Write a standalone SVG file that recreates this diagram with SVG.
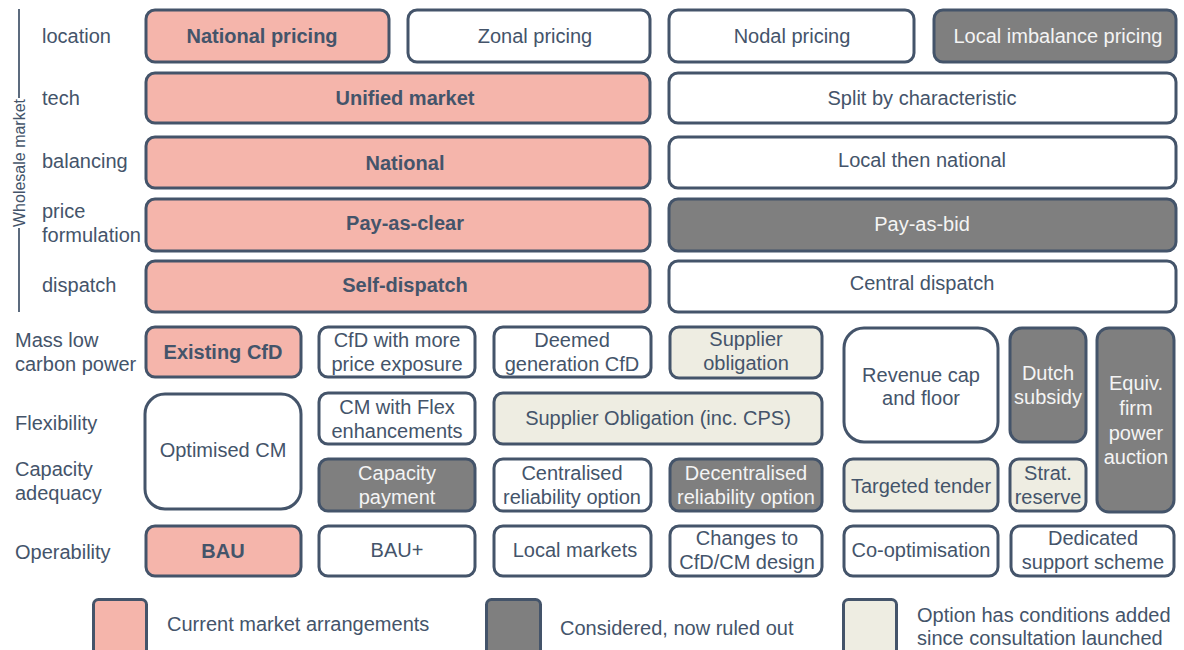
<svg xmlns="http://www.w3.org/2000/svg" width="1184" height="650" viewBox="0 0 1184 650">
  <style>
    text { font-family: "Liberation Sans", Arial, Helvetica, sans-serif; font-size: 20px; fill: #44546a; }
    .c { text-anchor: middle; }
    .b { font-weight: bold; }
    .w { fill: #f4f4f4; }
    .box { stroke: #44546a; stroke-width: 3; }
    .cur { fill: #f5b5ab; }
    .out { fill: #7f7f7f; }
    .cond { fill: #eeede2; }
    .opt { fill: #ffffff; }
    .axis { stroke: #5c6b7e; stroke-width: 2; }
  </style>

  <rect width="1184" height="650" fill="#ffffff"/>

  <!-- side bracket for the wholesale market rows -->
  <g id="wholesale-bracket">
    <line class="axis" x1="19" y1="9" x2="19" y2="98"/>
    <line class="axis" x1="19" y1="228" x2="19" y2="312"/>
    <text transform="translate(25,163) rotate(-90)" class="c" style="font-size:16px">Wholesale market</text>
  </g>

  <!-- row labels -->
  <g id="row-labels">
    <text x="42" y="43">location</text>
    <text x="42" y="105">tech</text>
    <text x="42" y="168">balancing</text>
    <text x="42" y="218">price</text>
    <text x="42" y="242">formulation</text>
    <text x="42" y="292">dispatch</text>
    <text x="15" y="347">Mass low</text>
    <text x="15" y="371">carbon power</text>
    <text x="15" y="430">Flexibility</text>
    <text x="15" y="476">Capacity</text>
    <text x="15" y="500">adequacy</text>
    <text x="15" y="559">Operability</text>
  </g>

  <!-- location -->
  <g id="national-pricing"><rect class="box cur" x="146" y="10" width="243" height="52" rx="9"/><text class="c b" x="262" y="43">National pricing</text></g>
  <g id="zonal-pricing"><rect class="box opt" x="408" y="10" width="242" height="52" rx="9"/><text class="c" x="535" y="43">Zonal pricing</text></g>
  <g id="nodal-pricing"><rect class="box opt" x="669" y="10" width="245" height="52" rx="9"/><text class="c" x="792" y="43">Nodal pricing</text></g>
  <g id="local-imbalance-pricing"><rect class="box out" x="934" y="10" width="242" height="52" rx="9"/><text class="c w" x="1058" y="43">Local imbalance pricing</text></g>

  <!-- tech -->
  <g id="unified-market"><rect class="box cur" x="146" y="73" width="504" height="50" rx="9"/><text class="c b" x="405" y="105">Unified market</text></g>
  <g id="split-by-characteristic"><rect class="box opt" x="669" y="73" width="507" height="50" rx="9"/><text class="c" x="922" y="105">Split by characteristic</text></g>

  <!-- balancing -->
  <g id="national-balancing"><rect class="box cur" x="146" y="137" width="504" height="51" rx="9"/><text class="c b" x="405" y="170">National</text></g>
  <g id="local-then-national"><rect class="box opt" x="669" y="137" width="507" height="51" rx="9"/><text class="c" x="922" y="167">Local then national</text></g>

  <!-- price formulation -->
  <g id="pay-as-clear"><rect class="box cur" x="146" y="199" width="504" height="52" rx="9"/><text class="c b" x="405" y="230">Pay-as-clear</text></g>
  <g id="pay-as-bid"><rect class="box out" x="669" y="199" width="507" height="52" rx="9"/><text class="c w" x="922" y="231">Pay-as-bid</text></g>

  <!-- dispatch -->
  <g id="self-dispatch"><rect class="box cur" x="146" y="261" width="504" height="51" rx="9"/><text class="c b" x="405" y="292">Self-dispatch</text></g>
  <g id="central-dispatch"><rect class="box opt" x="669" y="261" width="507" height="51" rx="9"/><text class="c" x="922" y="290">Central dispatch</text></g>

  <!-- mass low carbon power -->
  <g id="existing-cfd"><rect class="box cur" x="146" y="327" width="155" height="50" rx="9"/><text class="c b" x="223" y="359">Existing CfD</text></g>
  <g id="cfd-price-exposure"><rect class="box opt" x="319" y="327" width="156" height="50" rx="9"/><text class="c" x="397" y="347">CfD with more</text><text class="c" x="397" y="371">price exposure</text></g>
  <g id="deemed-generation-cfd"><rect class="box opt" x="494" y="327" width="157" height="50" rx="9"/><text class="c" x="572" y="347">Deemed</text><text class="c" x="572" y="371">generation CfD</text></g>
  <g id="supplier-obligation"><rect class="box cond" x="670" y="327" width="152" height="51" rx="9"/><text class="c" x="746" y="346">Supplier</text><text class="c" x="746" y="370">obligation</text></g>
  <g id="revenue-cap-floor"><rect class="box opt" x="844" y="328" width="154" height="114" rx="20"/><text class="c" x="921" y="382">Revenue cap</text><text class="c" x="921" y="405">and floor</text></g>
  <g id="dutch-subsidy"><rect class="box out" x="1010" y="328" width="76" height="114" rx="12"/><text class="c w" x="1048" y="380">Dutch</text><text class="c w" x="1048" y="404">subsidy</text></g>
  <g id="equiv-firm-power-auction"><rect class="box out" x="1097" y="328" width="77" height="184" rx="12"/><text class="c w" x="1136" y="390">Equiv.</text><text class="c w" x="1136" y="415">firm</text><text class="c w" x="1136" y="440">power</text><text class="c w" x="1136" y="464">auction</text></g>

  <!-- flexibility / capacity adequacy -->
  <g id="optimised-cm"><rect class="box opt" x="145" y="394" width="156" height="115" rx="20"/><text class="c" x="223" y="457">Optimised CM</text></g>
  <g id="cm-flex-enhancements"><rect class="box opt" x="319" y="393" width="156" height="51" rx="9"/><text class="c" x="397" y="414">CM with Flex</text><text class="c" x="397" y="438">enhancements</text></g>
  <g id="supplier-obligation-cps"><rect class="box cond" x="494" y="393" width="328" height="51" rx="9"/><text class="c" x="658" y="425">Supplier Obligation (inc. CPS)</text></g>

  <g id="capacity-payment"><rect class="box out" x="319" y="459" width="156" height="52" rx="9"/><text class="c w" x="397" y="480">Capacity</text><text class="c w" x="397" y="504">payment</text></g>
  <g id="centralised-reliability-option"><rect class="box opt" x="494" y="459" width="157" height="52" rx="9"/><text class="c" x="572" y="480">Centralised</text><text class="c" x="572" y="504">reliability option</text></g>
  <g id="decentralised-reliability-option"><rect class="box out" x="670" y="459" width="152" height="52" rx="9"/><text class="c w" x="746" y="480">Decentralised</text><text class="c w" x="746" y="504">reliability option</text></g>
  <g id="targeted-tender"><rect class="box cond" x="844" y="459" width="154" height="52" rx="9"/><text class="c" x="921" y="493">Targeted tender</text></g>
  <g id="strategic-reserve"><rect class="box cond" x="1010" y="459" width="76" height="52" rx="9"/><text class="c" x="1048" y="480">Strat.</text><text class="c" x="1048" y="504">reserve</text></g>

  <!-- operability -->
  <g id="bau"><rect class="box cur" x="146" y="526" width="155" height="50" rx="9"/><text class="c b" x="223" y="558">BAU</text></g>
  <g id="bau-plus"><rect class="box opt" x="319" y="526" width="156" height="50" rx="9"/><text class="c" x="397" y="557">BAU+</text></g>
  <g id="local-markets"><rect class="box opt" x="494" y="526" width="157" height="50" rx="9"/><text class="c" x="575" y="557">Local markets</text></g>
  <g id="changes-cfd-cm-design"><rect class="box opt" x="670" y="526" width="152" height="50" rx="9"/><text class="c" x="747" y="545">Changes to</text><text class="c" x="747" y="569">CfD/CM design</text></g>
  <g id="co-optimisation"><rect class="box opt" x="844" y="526" width="154" height="50" rx="9"/><text class="c" x="921" y="557">Co-optimisation</text></g>
  <g id="dedicated-support-scheme"><rect class="box opt" x="1011" y="526" width="163" height="50" rx="9"/><text class="c" x="1093" y="545">Dedicated</text><text class="c" x="1093" y="569">support scheme</text></g>

  <!-- key -->
  <g id="legend-current"><rect class="box cur" x="93.5" y="599.5" width="53" height="60" rx="5"/><text x="167" y="631">Current market arrangements</text></g>
  <g id="legend-ruled-out"><rect class="box out" x="486.5" y="599.5" width="54" height="60" rx="5"/><text x="560" y="635">Considered, now ruled out</text></g>
  <g id="legend-conditions"><rect class="box cond" x="843.5" y="599.5" width="53" height="60" rx="5"/><text x="917" y="622">Option has conditions added</text><text x="917" y="645">since consultation launched</text></g>

  <!-- no connectors in this chart -->
  <g id="connectors"/>
</svg>
